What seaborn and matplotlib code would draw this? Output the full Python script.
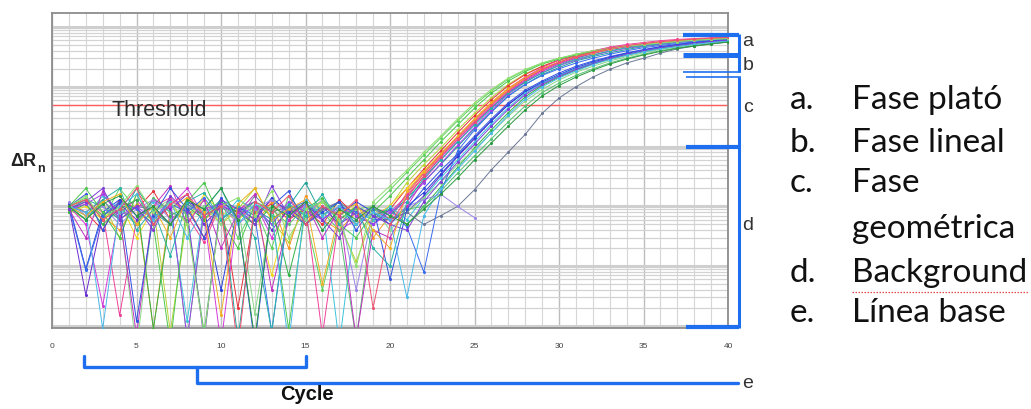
import numpy as np
import pandas as pd
import matplotlib
matplotlib.use('Agg')
import matplotlib.pyplot as plt
from matplotlib.ticker import MultipleLocator, LogLocator, NullFormatter
import seaborn as sns

cycles = list(range(1, 41))
threshold = 5.0

# delta Rn per well (log scale), cycles 1..40
well_01 = [0.1, 0.14, 0.06, 0.2, 0.09, 0.05, 0.13, 0.0006, 0.08, 0.12, 0.03, 0.1, 0.02, 0.15, 0.07, 0.004, 0.06, 0.09, 0.1,
           0.19, 0.37, 0.72, 1.4, 2.7, 5.0, 8.5, 13.5, 19, 25, 30, 35, 40, 45, 48, 52, 55, 58, 60, 62, 64]
well_02 = [0.09, 0.06, 0.12, 0.03, 0.16, 0.1, 0.0008, 0.07, 0.13, 0.05, 0.09, 0.2, 0.06, 0.025, 0.11, 0.08, 0.05, 0.012, 0.07,
           0.1, 0.25, 0.5, 0.95, 1.9, 3.6, 6.6, 11, 16.5, 22, 28, 33, 38, 43, 47, 51, 55, 58, 60, 62, 64]
well_03 = [0.11, 0.08, 0.04, 0.13, 0.09, 0.18, 0.06, 0.1, 0.03, 0.12, 0.002, 0.08, 0.11, 0.06, 0.09, 0.05, 0.13, 0.07, 0.05,
           0.09, 0.2, 0.42, 0.85, 1.7, 3.3, 6.1, 10.5, 16, 22, 28, 33, 38, 43, 47, 51, 55, 58, 61, 63, 65]
well_04 = [0.1, 0.13, 0.07, 0.04, 0.11, 0.0009, 0.09, 0.14, 0.06, 0.1, 0.08, 0.05, 0.12, 0.02, 0.15, 0.06, 0.04, 0.08, 0.03,
           0.07, 0.16, 0.35, 0.72, 1.45, 2.9, 5.5, 9.5, 14.5, 20, 26, 31, 36, 42, 47, 51, 55, 58, 61, 63, 65]
well_05 = [0.08, 0.1, 0.06, 0.12, 0.03, 0.09, 0.11, 0.05, 0.16, 0.08, 0.06, 0.1, 0.007, 0.09, 0.05, 0.12, 0.07, 0.1, 0.06,
           0.105, 0.2, 0.39, 0.75, 1.45, 2.8, 5.1, 8.8, 13.5, 19, 25, 31, 36, 43, 48, 52, 56, 59, 62, 64, 66]
well_06 = [0.1, 0.05, 0.0022, 0.08, 0.13, 0.06, 0.1, 0.2, 0.07, 0.0005, 0.09, 0.12, 0.03, 0.1, 0.07, 0.13, 0.04, 0.06, 0.09,
           0.08, 0.15, 0.32, 0.65, 1.3, 2.5, 4.6, 8.2, 13, 19, 25, 31, 37, 43, 48, 52, 56, 59, 62, 64, 66]
well_07 = [0.09, 0.12, 0.08, 0.0015, 0.06, 0.1, 0.14, 0.07, 0.025, 0.11, 0.09, 0.06, 0.13, 0.08, 0.1, 0.0007, 0.07, 0.05, 0.09,
           0.06, 0.17, 0.36, 0.74, 1.45, 2.8, 5.2, 9.2, 14.5, 21, 28, 34, 40, 46, 51, 55, 59, 62, 64, 66, 67]
well_08 = [0.1, 0.0033, 0.07, 0.11, 0.06, 0.13, 0.09, 0.16, 0.05, 0.1, 0.08, 0.12, 0.04, 0.09, 0.06, 0.1, 0.05, 0.08, 0.06,
           0.06, 0.08, 0.15, 0.33, 0.68, 1.35, 2.7, 5.1, 8.2, 11.5, 15.5, 20, 25, 31, 36, 41, 46, 51, 55, 59, 62]
well_09 = [0.11, 0.009, 0.08, 0.13, 0.07, 0.1, 0.05, 0.12, 0.09, 0.004, 0.1, 0.06, 0.14, 0.08, 0.05, 0.1, 0.07, 0.12, 0.08,
           0.05, 0.1, 0.17, 0.35, 0.7, 1.4, 2.7, 5.0, 8.3, 12, 16, 21, 26, 31, 36, 41, 46, 50, 54, 58, 61]
well_10 = [0.09, 0.13, 0.1, 0.06, 0.2, 0.08, 0.05, 0.11, 0.07, 0.13, 0.0006, 0.09, 0.06, 0.1, 0.25, 0.07, 0.12, 0.05, 0.09,
           0.07, 0.14, 0.26, 0.5, 1.0, 2.0, 3.8, 7.0, 11, 16, 21, 27, 32, 37, 42, 47, 51, 55, 58, 61, 63]
well_11 = [0.1, 0.07, 0.15, 0.09, 0.05, 0.12, 0.08, 0.0012, 0.1, 0.06, 0.13, 0.09, 0.05, 0.11, 0.07, 0.1, 0.0005, 0.08, 0.06,
           0.1, 0.06, 0.14, 0.3, 0.6, 1.2, 2.4, 4.5, 7.8, 11.5, 15.5, 20, 25, 30, 35, 40, 45, 49, 53, 57, 60]
well_12 = [0.08, 0.11, 0.05, 0.09, 0.13, 0.0009, 0.07, 0.1, 0.06, 0.12, 0.08, 0.05, 0.1, 0.007, 0.09, 0.12, 0.06, 0.1, 0.07,
           0.09, 0.05, 0.1, 0.21, 0.45, 0.95, 1.9, 3.7, 6.8, 10.5, 14.5, 19, 24, 29, 34, 39, 44, 48, 52, 56, 59]
well_13 = [0.1, 0.06, 0.12, 0.08, 0.0004, 0.09, 0.13, 0.07, 0.1, 0.05, 0.11, 0.0016, 0.08, 0.1, 0.06, 0.13, 0.08, 0.05, 0.1,
           0.04, 0.08, 0.14, 0.25, 0.5, 0.9, 1.7, 3.2, 5.8, 9.0, 13, 17.5, 22, 27, 32, 37, 42, 47, 51, 55, 58]
well_14 = [0.09, 0.12, 0.07, 0.1, 0.05, 0.14, 0.08, 0.06, 0.0008, 0.1, 0.07, 0.12, 0.09, 0.05, 0.1, 0.08, 0.04, 0.0006, 0.07,
           0.06, 0.09, 0.1, 0.18, 0.36, 0.7, 1.35, 2.6, 4.8, 8.0, 11.5, 15.5, 20, 25, 30, 35, 40, 45, 49, 53, 57]
well_15 = [0.1, 0.08, 0.13, 0.06, 0.1, 0.09, 0.05, 0.12, 0.07, 0.1, 0.06, 0.15, 0.08, 0.1, 0.05, 0.09, 0.12, 0.07, 0.1,
           0.06, 0.08, 0.05, 0.07, 0.1, 0.19, 0.41, 0.81, 1.6, 3.6, 6.5, 10, 14.5, 19.5, 25, 30, 36.5, 43, 48, 52, 56]
well_16 = [0.12, 0.07, 0.1, 0.05, 0.09, 0.13, 0.06, 0.1, 0.08, 0.11, 0.05, 0.09, 0.13, 0.07, 0.1, 0.06, 0.09, 0.004, 0.08,
           0.06, 0.1, 0.13, 0.16, 0.1, 0.065] + [None] * 15
well_17 = [0.1, 0.0085, 0.07, 0.12, 0.09, 0.05, 0.11, 0.08, 0.14, 0.06, 0.1, 0.07, 0.0008, 0.09, 0.12, 0.06, 0.1, 0.08, 0.05,
           0.09, 0.045, 0.008, 0.17, 0.85, 1.9, 3.8, 7.0, 11, 15.5, 20, 25, 30, 35, 40, 45, 49, 53, 56, 59, 62]
well_18 = [0.09, 0.11, 0.16, 0.07, 0.1, 0.06, 0.13, 0.0006, 0.09, 0.11, 0.07, 0.1, 0.05, 0.12, 0.08, 0.06, 0.1, 0.07, 0.05,
           0.08, 0.12, 0.25, 0.52, 1.05, 2.1, 4.1, 7.5, 12, 17, 22.5, 28, 33.5, 39, 44, 48, 52, 56, 59, 62, 64]
well_19 = [0.1, 0.2, 0.08, 0.03, 0.16, 0.05, 0.0005, 0.12, 0.25, 0.06, 0.02, 0.11, 0.07, 0.0009, 0.09, 0.14, 0.05, 0.03, 0.08,
           0.15, 0.3, 0.6, 1.2, 2.3, 4.4, 7.8, 12.5, 18, 24, 29, 34, 39, 44, 48, 52, 55, 58, 61, 63, 65]
well_20 = [0.09, 0.03, 0.18, 0.07, 0.0007, 0.1, 0.22, 0.05, 0.13, 0.02, 0.08, 0.16, 0.004, 0.06, 0.12, 0.03, 0.09, 0.0006, 0.04,
           0.03, 0.1, 0.28, 0.6, 1.2, 2.4, 4.5, 8.0, 12.5, 18, 24, 30, 36, 42, 47, 51, 55, 59, 62, 64, 66]
well_21 = [0.1, 0.16, 0.04, 0.12, 0.0012, 0.07, 0.2, 0.09, 0.03, 0.14, 0.06, 0.0005, 0.1, 0.18, 0.05, 0.08, 0.12, 0.04, 0.1,
           0.006, 0.09, 0.2, 0.4, 0.75, 1.5, 2.9, 5.4, 8.8, 12.5, 17, 22, 27, 32, 37, 42, 47, 51, 55, 58, 61]
well_22 = [0.1, 0.06, 0.13, 0.2, 0.04, 0.09, 0.015, 0.12, 0.17, 0.06, 0.1, 0.03, 0.0008, 0.11, 0.07, 0.16, 0.05, 0.1, 0.02,
           0.01, 0.12, 0.3, 0.6, 1.2, 2.3, 4.4, 7.8, 12, 17, 23, 29, 34, 40, 45, 49, 53, 57, 60, 62, 64]
well_23 = [0.09, 0.12, 0.2, 0.06, 0.1, 0.04, 0.15, 0.08, 0.0006, 0.13, 0.09, 0.05, 0.22, 0.07, 0.11, 0.06, 0.03, 0.1, 0.07,
           0.05, 0.04, 0.12, 0.26, 0.55, 1.1, 2.2, 4.2, 7.4, 11, 15, 19.5, 24.5, 30, 35, 40, 45, 49, 53, 57, 60]
well_24 = [0.1, 0.07, 0.12, 0.16, 0.05, 0.1, 0.03, 0.14, 0.08, 0.0015, 0.11, 0.2, 0.06, 0.09, 0.13, 0.005, 0.08, 0.11, 0.04,
           0.02, 0.18, 0.38, 0.76, 1.5, 2.9, 5.3, 9.2, 14, 20, 26, 32, 37, 43, 48, 52, 56, 59, 62, 64, 66]
well_25 = [0.1, 0.15, 0.06, 0.1, 0.22, 0.08, 0.12, 0.05, 0.0007, 0.1, 0.14, 0.07, 0.18, 0.03, 0.09, 0.12, 0.06, 0.01, 0.12,
           0.22, 0.4, 0.8, 1.5, 2.9, 5.4, 9.0, 14, 19.5, 25, 30, 35, 40, 44, 48, 51, 54, 57, 60, 62, 64]
well_26 = [0.1, 0.08, 0.0009, 0.1, 0.16, 0.06, 0.12, 0.03, 0.09, 0.2, 0.05, 0.11, 0.08, 0.0005, 0.13, 0.07, 0.1, 0.05, 0.08,
           0.06, 0.003, 0.07, 0.2, 0.42, 0.85, 1.7, 3.4, 6.3, 10, 14, 18.5, 23.5, 28.5, 33.5, 38.5, 43, 47, 51, 55, 58]
well_27 = [0.1, 0.13, 0.06, 0.09, 0.2, 0.05, 0.11, 0.16, 0.07, 0.1, 0.0004, 0.12, 0.08, 0.15, 0.05, 0.1, 0.07, 0.13, 0.002,
           0.05, 0.14, 0.32, 0.68, 1.35, 2.6, 4.9, 8.6, 13.5, 19.5, 26, 32, 38, 44, 49, 53, 57, 60, 63, 65, 67]
well_28 = [0.1, 0.06, 0.11, 0.15, 0.07, 0.1, 0.05, 0.13, 0.09, 0.2, 0.06, 0.0006, 0.1, 0.07, 0.12, 0.04, 0.09, 0.06, 0.1,
           0.07, 0.05, 0.09, 0.16, 0.3, 0.6, 1.15, 2.2, 4.1, 7.0, 10.5, 14.5, 19, 24, 29, 34, 39, 44, 48, 52, 56]

wells = [well_01, well_02, well_03, well_04, well_05, well_06, well_07, well_08, well_09, well_10,
         well_11, well_12, well_13, well_14, well_15, well_16, well_17, well_18, well_19, well_20,
         well_21, well_22, well_23, well_24, well_25, well_26, well_27, well_28]
well_colors = ['#5fd35f', '#b5d334', '#e8303a', '#f59a23', '#f2d81c', '#d238d8', '#f0409a', '#6a2bd0', '#2a3fd8', '#1fa59a',
               '#3cc4dc', '#2fb34a', '#8ad68a', '#55c070', '#6b7896', '#9b86e8', '#3a6cf0', '#a040f0', '#4cc84c', '#c030c0',
               '#3050e0', '#29b3a6', '#7d3cd8', '#f0b020', '#90e070', '#48b8e8', '#f05070', '#2a9a40']

x_ticks = [0, 5, 10, 15, 20, 25, 30, 35, 40]
phase_marks = ['a', 'b', 'c', 'd', 'e']
phase_names = ['Fase plató', 'Fase lineal', 'Fase', 'geométrica', 'Background', 'Línea base']
phase_bullets = ['a.', 'b.', 'c.', '', 'd.', 'e.']

rows = []
for i, w in enumerate(wells):
    for c, v in zip(cycles, w):
        rows.append({'well': 'w%02d' % (i + 1), 'cycle': c, 'dRn': v})
df = pd.DataFrame(rows).dropna()

sns.set_style('white')
plt.rcParams['font.family'] = ['Liberation Sans', 'DejaVu Sans']

W, H = 1031, 409
fig = plt.figure(figsize=(W / 100, H / 100), dpi=100)
ax = fig.add_axes([52 / W, 1 - 328 / H, 676 / W, 315 / H])

sns.lineplot(data=df, x='cycle', y='dRn', hue='well', palette=well_colors, estimator=None, sort=False,
             legend=False, lw=0.7, marker='o', markersize=2.2, markeredgewidth=0, ax=ax, zorder=3)
ax.axhline(threshold, color='#ff5c5c', lw=1.0, zorder=2)

ax.set_yscale('log')
ax.set_xlim(0, 40)
ax.set_ylim(10 ** -3.033, 10 ** 2.234)
ax.set_xlabel('')
ax.set_ylabel('')

ax.xaxis.set_minor_locator(MultipleLocator(1))
ax.yaxis.set_major_locator(LogLocator(base=10, numticks=100))
ax.yaxis.set_minor_locator(LogLocator(base=10, subs=np.arange(2, 10), numticks=100))
ax.yaxis.set_minor_formatter(NullFormatter())
ax.set_xticks(x_ticks)
ax.set_xticklabels([str(t) for t in x_ticks], fontsize=6, color='#444444')
ax.tick_params(axis='x', which='both', length=3, color='#999999', pad=8)
ax.tick_params(axis='y', which='both', left=False, labelleft=False)

ax.grid(which='major', axis='x', color='#bdbdbd', lw=1.0)
ax.grid(which='minor', axis='x', color='#d6d6d6', lw=0.8)
ax.grid(which='major', axis='y', color='#cfcfcf', lw=2.2)
ax.grid(which='minor', axis='y', color='#d3d3d3', lw=0.9)
ax.set_axisbelow(True)
for s in ax.spines.values():
    s.set_color('#8c8c8c')
    s.set_linewidth(1.3)

# overlay in pixel units for the labels and the blue brackets
ov = fig.add_axes([0, 0, 1, 1])
ov.set_xlim(0, W)
ov.set_ylim(H, 0)
ov.axis('off')
ov.patch.set_alpha(0)

ov.text(111, 110, 'Threshold', fontsize=15.5, color='#2a2a2a', va='center', ha='left')
ov.text(10, 161, 'ΔR', fontsize=13, fontweight='bold', color='#222222', va='center', ha='left')
ov.text(37, 169, 'n', fontsize=9, fontweight='bold', color='#222222', va='center', ha='left')
ov.text(307, 395, 'Cycle', fontsize=14.5, fontweight='bold', color='#111111', va='center', ha='center')

blue = '#1e6ff0'
# right brackets
ov.plot([683, 739], [35, 35], color=blue, lw=3.0, solid_capstyle='butt')
ov.plot([683, 739], [55, 55], color=blue, lw=3.6, solid_capstyle='butt')
ov.plot([683, 741], [72, 72], color=blue, lw=1.2, solid_capstyle='butt')
ov.plot([686, 741], [77, 77], color=blue, lw=1.2, solid_capstyle='butt')
ov.plot([739, 739], [34, 72], color=blue, lw=2.2, solid_capstyle='butt')
ov.plot([739, 739], [77, 328], color=blue, lw=2.2, solid_capstyle='butt')
ov.plot([686, 739], [147, 147], color=blue, lw=3.0, solid_capstyle='butt')
ov.plot([686, 739], [327, 327], color=blue, lw=3.0, solid_capstyle='butt')
# bottom brackets
ov.plot([84, 84, 306, 306], [356, 367, 367, 356], color=blue, lw=2.4)
ov.plot([197, 197, 738], [367, 383, 383], color=blue, lw=2.4)

for m, yy in zip(phase_marks, [41, 65, 107, 225, 383]):
    ov.text(748, yy, m, fontsize=14, color='#333333', va='center', ha='center')

# list of phases on the right
leg_y = [100, 143, 183, 229, 273, 313]
for b, name, yy in zip(phase_bullets, phase_names, leg_y):
    ov.text(790, yy, b, fontsize=24, family=['Lato', 'DejaVu Sans'], color='#111111', va='center', ha='left')
    ov.text(852, yy, name, fontsize=24, family=['Lato', 'DejaVu Sans'], color='#111111', va='center', ha='left')
ov.plot([852, 1028], [292, 292], color='#e04848', lw=0.9, ls=(0, (1.2, 1.2)))

fig.savefig('out.png', dpi=100)
